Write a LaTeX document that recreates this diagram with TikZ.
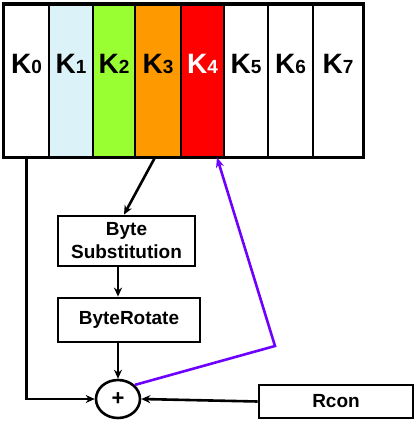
\documentclass[tikz,border=0pt]{standalone}
\usepackage{fontspec}
\setmainfont{Liberation Sans}
\usetikzlibrary{arrows.meta,shapes.geometric,calc}
\definecolor{kone}{RGB}{218,242,248}
\definecolor{ktwo}{RGB}{153,255,51}
\definecolor{kthree}{RGB}{255,153,0}
\definecolor{kfour}{RGB}{255,0,0}
\definecolor{fbpurple}{RGB}{110,0,255}
\newcommand{\kl}[1]{{\fontsize{28}{28}\selectfont K}{\fontsize{19}{19}\selectfont #1}}
\begin{document}
\begin{tikzpicture}[x=1pt,y=-1pt,
  cell/.style={draw=black,line width=1.4pt,minimum height=152pt,inner sep=0pt,
    text height=20pt,text depth=34pt,font=\bfseries,anchor=north},
  opbox/.style={draw=black,line width=2.8pt,fill=white,inner sep=0pt,align=center,
    font=\fontsize{19}{23}\selectfont\bfseries},
  conn/.style={line width=2.6pt,-{Stealth[length=9pt,width=8pt]}},
  fb/.style={line width=2.6pt,draw=fbpurple,-{Stealth[length=10pt,width=8pt]}}]
\useasboundingbox (0,0) rectangle (416,421);
\node[cell,minimum width=45pt,fill=white] (k0) at (26.5,4) {\kl{0}};
\node[cell,minimum width=44pt,fill=kone] (k1) at (71,4) {\kl{1}};
\node[cell,minimum width=42pt,fill=ktwo] (k2) at (114,4) {\kl{2}};
\node[cell,minimum width=46pt,fill=kthree] (k3) at (158,4) {\kl{3}};
\node[cell,minimum width=43pt,fill=kfour,text=white] (k4) at (202.5,4) {\kl{4}};
\node[cell,minimum width=44pt,fill=white] (k5) at (246,4) {\kl{5}};
\node[cell,minimum width=45pt,fill=white] (k6) at (290.5,4) {\kl{6}};
\node[cell,minimum width=50pt,fill=white] (k7) at (338,4) {\kl{7}};
\draw[line width=3.2pt] (k0.north west) rectangle (k7.south east);
\node[opbox,minimum width=137pt,minimum height=50pt] (bsub) at (126.5,241) {Byte\\Substitution};
\node[opbox,minimum width=142pt,minimum height=44pt] (brot) at (129,320) {ByteRotate};
\node[opbox,minimum width=154pt,minimum height=33pt] (rcon) at (336,401.5) {Rcon};
\node[draw=black,line width=2.6pt,ellipse,minimum width=44pt,minimum height=38pt,inner sep=0pt,
  font=\fontsize{22}{22}\selectfont\bfseries] (plus) at (118,399) {+};
\coordinate (bend) at (275,346);
\coordinate (k4in) at ($(k4.south)+(14.5,0)$);
\coordinate (k3out) at ($(k3.south)+(-3,0)$);
\draw[conn] (k3out) -- ($(bsub.north)+(-2.5,0)$);
\draw[conn] (plus |- bsub.south) -- (plus |- brot.north);
\draw[conn] (plus |- brot.south) -- (plus.north);
\draw[conn] (k0.south) |- (plus.west);
\draw[conn] (rcon.west) -- (plus.east);
\draw[fb] (plus.40) -- (bend) -- (k4in);
\end{tikzpicture}
\end{document}
